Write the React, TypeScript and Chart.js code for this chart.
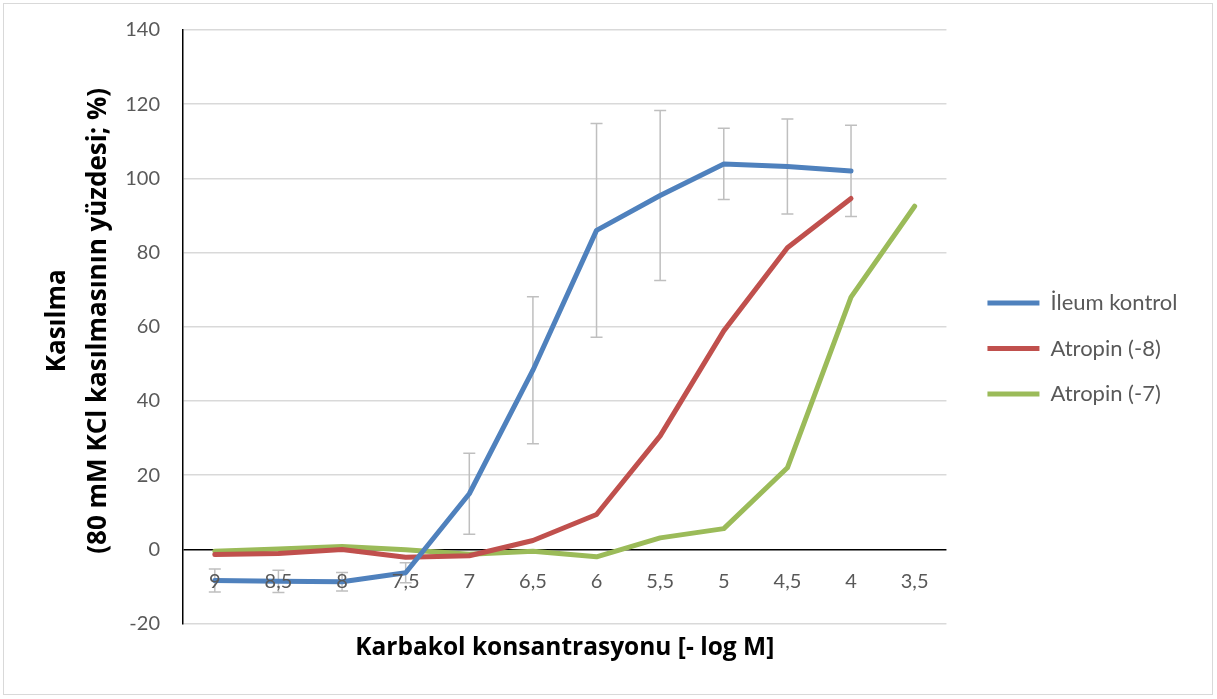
import React, { useEffect, useRef } from "react";
import { Chart, registerables } from "chart.js";

Chart.register(...registerables);

const categories = ["9", "8,5", "8", "7,5", "7", "6,5", "6", "5,5", "5", "4,5", "4", "3,5"];
const ileumKontrol = [-8.4, -8.6, -8.7, -6.3, 15, 48.3, 86, 95.4, 103.9, 103.2, 102, null];
const ileumKontrolErr = [3.1, 3.0, 2.5, 2.7, 10.9, 19.8, 28.8, 22.9, 9.6, 12.8, 12.3, null];
const atropin8 = [-1.4, -1.1, 0, -2.1, -1.7, 2.4, 9.4, 30.6, 58.9, 81.3, 94.6, null];
const atropin7 = [-0.5, 0.1, 0.8, -0.1, -1.3, -0.5, -2.0, 3.1, 5.6, 22, 68, 92.5];
const yTicks = { min: -20, max: 140, step: 20 };

const seriesNames = ["İleum kontrol", "Atropin (-8)", "Atropin (-7)"];
const seriesColors = ["#4f81bd", "#c0504d", "#9bbb59"];
const yTitleLines = ["Kasılma", "(80 mM KCl kasılmasının yüzdesi; %)"];
const xTitle = "Karbakol konsantrasyonu [- log M]";

const FONT = "Lato";
const TITLE_FONT = "'Open Sans'";
const LEGEND_GAP = 41; // space between plot area and legend line start

const framePlugin = {
  id: "frame",
  beforeDraw(chart: any) {
    const { ctx, width, height } = chart;
    ctx.save();
    ctx.fillStyle = "#ffffff";
    ctx.fillRect(0, 0, width, height);
    ctx.strokeStyle = "#d9d9d9";
    ctx.lineWidth = 1;
    ctx.strokeRect(3.5, 3.5, width - 8, height - 8);
    ctx.restore();
  },
};

const legendShiftPlugin = {
  id: "legendShift",
  afterLayout(chart: any) {
    const lg = chart.legend;
    if (!lg) return;
    const pad = lg.options.labels.padding;
    const shift = chart.chartArea.right + LEGEND_GAP - (lg.left + pad);
    lg.left += shift;
    lg.right += shift;
  },
};

const errorBarPlugin = {
  id: "errorBars",
  beforeDatasetsDraw(chart: any) {
    const { ctx } = chart;
    const xs = chart.scales.x;
    const ys = chart.scales.y;
    ctx.save();
    ctx.strokeStyle = "#bfbfbf";
    ctx.lineWidth = 1.5;
    const cap = 6;
    ileumKontrol.forEach((v, i) => {
      const e = ileumKontrolErr[i];
      if (v == null || e == null) return;
      const x = xs.getPixelForValue(i);
      const yt = ys.getPixelForValue(v + e);
      const yb = ys.getPixelForValue(v - e);
      ctx.beginPath();
      ctx.moveTo(x, yt);
      ctx.lineTo(x, yb);
      ctx.moveTo(x - cap, yt);
      ctx.lineTo(x + cap, yt);
      ctx.moveTo(x - cap, yb);
      ctx.lineTo(x + cap, yb);
      ctx.stroke();
    });
    ctx.restore();
  },
};

const labelPlugin = {
  id: "catLabels",
  afterDatasetsDraw(chart: any) {
    const { ctx, chartArea } = chart;
    const xs = chart.scales.x;
    const ys = chart.scales.y;
    const y = ys.getPixelForValue(0) + 32;
    ctx.save();
    ctx.fillStyle = "#595959";
    ctx.font = `20px ${FONT}`;
    ctx.textAlign = "center";
    ctx.textBaseline = "middle";
    categories.forEach((c, i) => {
      ctx.fillText(c, xs.getPixelForValue(i), y);
    });
    // y-axis title (two lines, rotated)
    const cy = (chartArea.top + chartArea.bottom) / 2 - 6;
    ctx.fillStyle = "#000000";
    ctx.font = `bold 26px ${TITLE_FONT}`;
    const xsPos = [58, 99];
    yTitleLines.forEach((t, i) => {
      ctx.save();
      ctx.translate(xsPos[i], cy);
      ctx.rotate(-Math.PI / 2);
      ctx.textAlign = "center";
      ctx.textBaseline = "middle";
      ctx.fillText(t, 0, 0);
      ctx.restore();
    });
    ctx.restore();
  },
};

function buildChart(canvas: HTMLCanvasElement) {
  const data = [ileumKontrol, atropin8, atropin7];
  return new Chart(canvas, {
    type: "line",
    data: {
      labels: categories,
      datasets: data.map((d, i) => ({
        label: seriesNames[i],
        data: d,
        borderColor: seriesColors[i],
        backgroundColor: seriesColors[i],
        borderWidth: 5,
        pointRadius: 0,
        pointHoverRadius: 0,
        tension: 0,
        borderCapStyle: "round",
        borderJoinStyle: "round",
        fill: false,
      })),
    },
    options: {
      animation: false,
      responsive: true,
      maintainAspectRatio: false,
      layout: { padding: { top: 30, bottom: 32, right: 47, left: 0 } },
      plugins: {
        tooltip: { enabled: false },
        legend: {
          position: "right",
          align: "center",
          labels: {
            usePointStyle: true,
            pointStyle: "line",
            pointStyleWidth: 52,
            font: { family: FONT, size: 22 },
            color: "#595959",
            padding: 23.5,
          },
        },
      },
      scales: {
        x: {
          type: "category",
          offset: true,
          grid: { display: false, drawTicks: false },
          border: { display: false },
          ticks: { display: false },
          title: {
            display: true,
            text: xTitle,
            color: "#000000",
            font: { family: TITLE_FONT, size: 24.5, weight: "bold", lineHeight: 1.2 },
            padding: { top: 10, bottom: 4 },
          },
        },
        y: {
          type: "linear",
          position: "left",
          min: yTicks.min,
          max: yTicks.max,
          ticks: {
            stepSize: yTicks.step,
            color: "#595959",
            font: { family: FONT, size: 20 },
            padding: 23,
          },
          grid: {
            drawTicks: false,
            lineWidth: 1.5,
            color: (c: any) => (c.tick && c.tick.value === 0 ? "#000000" : "#d9d9d9"),
          },
          border: { display: true, color: "#000000", width: 1.5 },
          afterFit: (s: any) => {
            s.width = 183;
            s.paddingTop = 0;
            s.paddingBottom = 0;
          },
        },
      },
    } as any,
    plugins: [framePlugin, legendShiftPlugin, errorBarPlugin, labelPlugin],
  });
}

export default function App() {
  const canvasRef = useRef<HTMLCanvasElement | null>(null);

  useEffect(() => {
    let chart: Chart | null = null;
    let cancelled = false;
    const fontsToLoad = ["20px Lato", "22px Lato", "bold 24.5px 'Open Sans'"];
    const fontsApi: any = (document as any).fonts;
    const ready = fontsApi
      ? Promise.all(fontsToLoad.map((f) => fontsApi.load(f).catch(() => null)))
      : Promise.resolve();
    ready.then(() => {
      if (cancelled || !canvasRef.current) return;
      chart = buildChart(canvasRef.current);
    });
    return () => {
      cancelled = true;
      if (chart) chart.destroy();
    };
  }, []);

  return (
    <div style={{ position: "absolute", left: 0, top: 0, width: 1217, height: 699 }}>
      <canvas ref={canvasRef} />
    </div>
  );
}
